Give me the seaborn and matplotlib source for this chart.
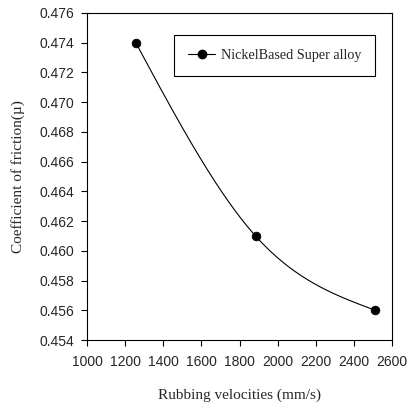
import numpy as np
import pandas as pd
import matplotlib
matplotlib.use("Agg")
import matplotlib.pyplot as plt
import seaborn as sns
from matplotlib.lines import Line2D

# Data
velocities = [1256, 1884, 2512]
friction = [0.474, 0.461, 0.456]
series_name = "NickelBased Super alloy"
x_ticks = [1000, 1200, 1400, 1600, 1800, 2000, 2200, 2400, 2600]
y_ticks = [0.454, 0.456, 0.458, 0.460, 0.462, 0.464, 0.466, 0.468, 0.470, 0.472, 0.474, 0.476]


def natural_spline(xs, ys, n=200):
    xs = np.asarray(xs, float)
    ys = np.asarray(ys, float)
    k = len(xs)
    h = np.diff(xs)
    A = np.zeros((k, k))
    b = np.zeros(k)
    A[0, 0] = 1
    A[-1, -1] = 1
    for i in range(1, k - 1):
        A[i, i - 1] = h[i - 1]
        A[i, i] = 2 * (h[i - 1] + h[i])
        A[i, i + 1] = h[i]
        b[i] = 6 * ((ys[i + 1] - ys[i]) / h[i] - (ys[i] - ys[i - 1]) / h[i - 1])
    M = np.linalg.solve(A, b)
    xx, yy = [], []
    for i in range(k - 1):
        t = np.linspace(xs[i], xs[i + 1], n)
        hi = h[i]
        s = (M[i] * (xs[i + 1] - t) ** 3 / (6 * hi) + M[i + 1] * (t - xs[i]) ** 3 / (6 * hi)
             + (ys[i] / hi - M[i] * hi / 6) * (xs[i + 1] - t)
             + (ys[i + 1] / hi - M[i + 1] * hi / 6) * (t - xs[i]))
        xx.extend(t)
        yy.extend(s)
    return np.array(xx), np.array(yy)


sns.set_style("ticks")
plt.rcParams["font.family"] = ["Liberation Sans", "DejaVu Sans"]

fig = plt.figure(figsize=(4.07, 4.09), dpi=100)
ax = fig.add_axes([87 / 407, 69 / 409, 305 / 407, 327 / 409])

sx, sy = natural_spline(velocities, friction)
curve = pd.DataFrame({"v": sx, "f": sy})
pts = pd.DataFrame({"v": velocities, "f": friction})

sns.lineplot(data=curve, x="v", y="f", ax=ax, color="black", linewidth=0.8, sort=False)
sns.scatterplot(data=pts, x="v", y="f", ax=ax, color="black", s=40, edgecolor="black", zorder=5)

ax.set_xlim(1000, 2600)
ax.set_ylim(0.454, 0.476)
ax.set_xticks(x_ticks)
ax.set_yticks(y_ticks)
ax.set_xticklabels([str(t) for t in x_ticks])
ax.set_yticklabels([f"{t:.3f}" for t in y_ticks])
ax.tick_params(axis="both", direction="out", length=4.3, width=0.8, labelsize=10, color="black")
ax.tick_params(axis="x", pad=6.5)
ax.tick_params(axis="y", pad=5)
ax.tick_params(top=False, right=False)

for sp in ax.spines.values():
    sp.set_visible(True)
    sp.set_color("black")
    sp.set_linewidth(0.8)

serif = ["Liberation Serif", "DejaVu Serif"]
ax.set_xlabel("Rubbing velocities (mm/s)", fontsize=11, family=serif, labelpad=14)
ax.set_ylabel("Coefficient of friction(µ)", fontsize=11, family=serif, labelpad=10)

handle = Line2D([0], [0], color="black", linewidth=0.8, marker="o", markersize=6)
leg = ax.legend([handle], [series_name], loc="upper left",
                bbox_to_anchor=((174 - 87) / 305, (340 - 35) / 327),
                prop={"family": serif, "size": 10.2}, frameon=True, fancybox=False,
                edgecolor="black", framealpha=1, borderpad=1.0, handlelength=1.9,
                handletextpad=0.4, borderaxespad=0)
leg.get_frame().set_linewidth(0.8)

fig.savefig("out.png", dpi=100)
